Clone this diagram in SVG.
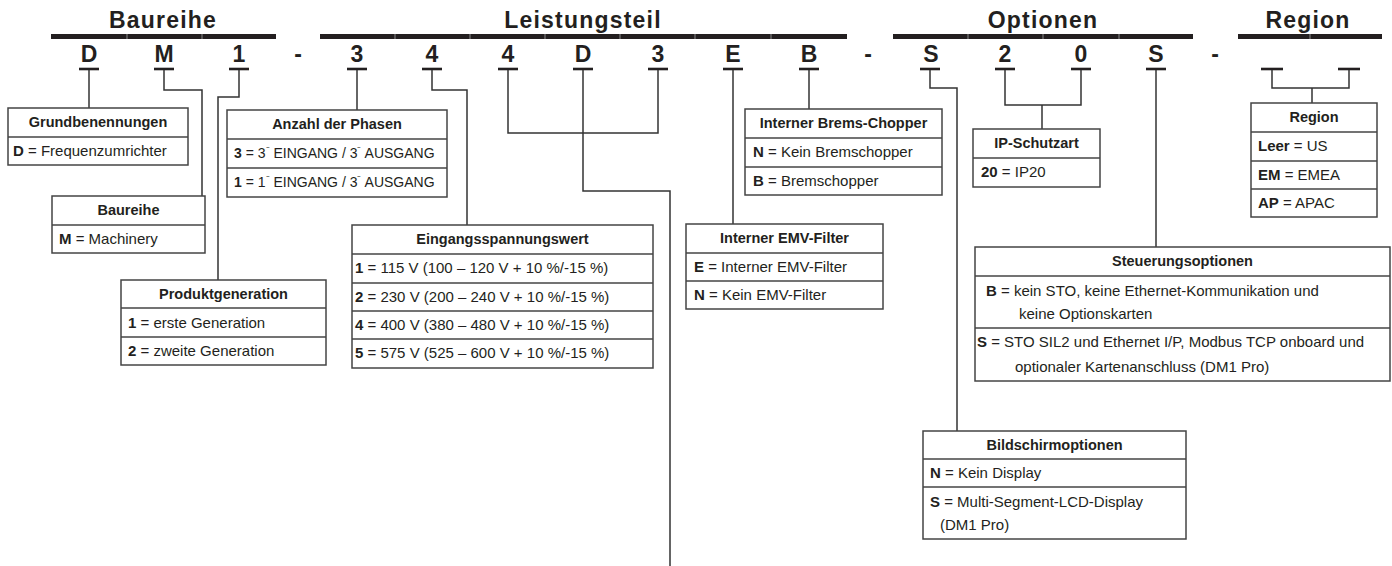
<svg xmlns="http://www.w3.org/2000/svg" width="1392" height="566" viewBox="0 0 1392 566">
<style>
text{font-family:"Liberation Sans",Arial,sans-serif;fill:#231f20}
.hd{font-size:23px;font-weight:bold;text-anchor:middle;letter-spacing:1.2px}
.lt{font-size:23px;font-weight:bold;text-anchor:middle}
.bar{fill:#231f20}
.sep{stroke:#8a8a8a;stroke-width:1}
.ul{stroke:#231f20;stroke-width:2.6}
.cn{fill:none;stroke:#333;stroke-width:1.5}
.box{fill:#fff;stroke:#444;stroke-width:1.5}
.dv{stroke:#444;stroke-width:1.5}
.tt{font-size:14.5px;font-weight:bold;text-anchor:middle}
.it{font-size:15px}
.it14{font-size:14px}
.b{font-weight:bold}
.sup{font-size:11px}
</style>

<g id="headers">
<text class="hd" x="163" y="28">Baureihe</text>
<text class="hd" x="583" y="28">Leistungsteil</text>
<text class="hd" x="1043" y="28">Optionen</text>
<text class="hd" x="1308" y="28">Region</text>
<rect class="bar" x="51" y="34" width="225" height="5"/>
<rect class="bar" x="320" y="34" width="527" height="5"/>
<rect class="bar" x="893" y="34" width="300" height="5"/>
<rect class="bar" x="1238" y="34" width="144" height="5"/>
<line class="sep" x1="127" y1="34" x2="127" y2="39"/>
<line class="sep" x1="202" y1="34" x2="202" y2="39"/>
<line class="sep" x1="395" y1="34" x2="395" y2="39"/>
<line class="sep" x1="470" y1="34" x2="470" y2="39"/>
<line class="sep" x1="545" y1="34" x2="545" y2="39"/>
<line class="sep" x1="620" y1="34" x2="620" y2="39"/>
<line class="sep" x1="695" y1="34" x2="695" y2="39"/>
<line class="sep" x1="771" y1="34" x2="771" y2="39"/>
<line class="sep" x1="968" y1="34" x2="968" y2="39"/>
<line class="sep" x1="1043" y1="34" x2="1043" y2="39"/>
<line class="sep" x1="1119" y1="34" x2="1119" y2="39"/>
<line class="sep" x1="1310" y1="34" x2="1310" y2="39"/>
</g>

<g id="code">
<text class="lt" x="89" y="62">D</text>
<text class="lt" x="164" y="62">M</text>
<text class="lt" x="239" y="62">1</text>
<text class="lt" x="298" y="62">-</text>
<text class="lt" x="357" y="62">3</text>
<text class="lt" x="432" y="62">4</text>
<text class="lt" x="508" y="62">4</text>
<text class="lt" x="583" y="62">D</text>
<text class="lt" x="658" y="62">3</text>
<text class="lt" x="733" y="62">E</text>
<text class="lt" x="809" y="62">B</text>
<text class="lt" x="868" y="62">-</text>
<text class="lt" x="931" y="62">S</text>
<text class="lt" x="1005" y="62">2</text>
<text class="lt" x="1081" y="62">0</text>
<text class="lt" x="1156" y="62">S</text>
<text class="lt" x="1215" y="62">-</text>
<line class="ul" x1="79" y1="69" x2="99" y2="69"/>
<line class="ul" x1="154" y1="69" x2="174" y2="69"/>
<line class="ul" x1="229" y1="69" x2="249" y2="69"/>
<line class="ul" x1="347" y1="69" x2="367" y2="69"/>
<line class="ul" x1="422" y1="69" x2="442" y2="69"/>
<line class="ul" x1="498" y1="69" x2="518" y2="69"/>
<line class="ul" x1="573" y1="69" x2="593" y2="69"/>
<line class="ul" x1="648" y1="69" x2="668" y2="69"/>
<line class="ul" x1="723" y1="69" x2="743" y2="69"/>
<line class="ul" x1="799" y1="69" x2="819" y2="69"/>
<line class="ul" x1="920" y1="69" x2="940" y2="69"/>
<line class="ul" x1="995" y1="69" x2="1015" y2="69"/>
<line class="ul" x1="1071" y1="69" x2="1091" y2="69"/>
<line class="ul" x1="1146" y1="69" x2="1166" y2="69"/>
<line class="ul" x1="1261" y1="69" x2="1283" y2="69"/>
<line class="ul" x1="1338" y1="69" x2="1360" y2="69"/>
</g>

<g id="connectors">
<path class="cn" d="M89 70 V108"/>
<path class="cn" d="M164 70 V90 H202 V196"/>
<path class="cn" d="M239 70 V97 H218 V280"/>
<path class="cn" d="M357 70 V110"/>
<path class="cn" d="M432 70 V90 H467 V225"/>
<path class="cn" d="M508 70 V133 H658 V70"/>
<path class="cn" d="M583 70 V191 H670 V566"/>
<path class="cn" d="M733 70 V224"/>
<path class="cn" d="M809 70 V109"/>
<path class="cn" d="M930 70 V88 H957 V431"/>
<path class="cn" d="M1005 70 V105 H1081 V70"/>
<path class="cn" d="M1042 105 V129"/>
<path class="cn" d="M1156 70 V247"/>
<path class="cn" d="M1272 70 V88 H1349 V70"/>
<path class="cn" d="M1312 88 V103"/>
</g>

<g id="grundbenennungen">
<rect class="box" x="8" y="108" width="180" height="57"/>
<line class="dv" x1="8" y1="137" x2="188" y2="137"/>
<text class="tt" x="98" y="127">Grundbenennungen</text>
<text class="it" x="13" y="156"><tspan class="b">D</tspan> = Frequenzumrichter</text>
</g>

<g id="baureihe">
<rect class="box" x="52" y="196" width="153" height="57"/>
<line class="dv" x1="52" y1="225" x2="205" y2="225"/>
<text class="tt" x="128.5" y="215">Baureihe</text>
<text class="it" x="59" y="244"><tspan class="b">M</tspan> = Machinery</text>
</g>

<g id="produktgeneration">
<rect class="box" x="121" y="280" width="205" height="85"/>
<line class="dv" x1="121" y1="308" x2="326" y2="308"/>
<line class="dv" x1="121" y1="337" x2="326" y2="337"/>
<text class="tt" x="223.5" y="299">Produktgeneration</text>
<text class="it" x="128" y="328"><tspan class="b">1</tspan> = erste Generation</text>
<text class="it" x="128" y="356"><tspan class="b">2</tspan> = zweite Generation</text>
</g>

<g id="phasen">
<rect class="box" x="227" y="110" width="220" height="87"/>
<line class="dv" x1="227" y1="139" x2="447" y2="139"/>
<line class="dv" x1="227" y1="168" x2="447" y2="168"/>
<text class="tt" x="337" y="129">Anzahl der Phasen</text>
<text class="it14" x="234" y="158"><tspan class="b">3</tspan> = 3<tspan class="sup" dy="-4">⁻</tspan><tspan dy="4"> EINGANG / 3</tspan><tspan class="sup" dy="-4">⁻</tspan><tspan dy="4"> AUSGANG</tspan></text>
<text class="it14" x="234" y="187"><tspan class="b">1</tspan> = 1<tspan class="sup" dy="-4">⁻</tspan><tspan dy="4"> EINGANG / 3</tspan><tspan class="sup" dy="-4">⁻</tspan><tspan dy="4"> AUSGANG</tspan></text>
</g>

<g id="eingangsspannung">
<rect class="box" x="352" y="225" width="301" height="143"/>
<line class="dv" x1="352" y1="254" x2="653" y2="254"/>
<line class="dv" x1="352" y1="283" x2="653" y2="283"/>
<line class="dv" x1="352" y1="311" x2="653" y2="311"/>
<line class="dv" x1="352" y1="339" x2="653" y2="339"/>
<text class="tt" x="502.5" y="244">Eingangsspannungswert</text>
<text class="it" x="355" y="273"><tspan class="b">1</tspan> = 115 V (100 – 120 V + 10 %/-15 %)</text>
<text class="it" x="355" y="302"><tspan class="b">2</tspan> = 230 V (200 – 240 V + 10 %/-15 %)</text>
<text class="it" x="355" y="330"><tspan class="b">4</tspan> = 400 V (380 – 480 V + 10 %/-15 %)</text>
<text class="it" x="355" y="358"><tspan class="b">5</tspan> = 575 V (525 – 600 V + 10 %/-15 %)</text>
</g>

<g id="emv">
<rect class="box" x="686" y="224" width="197" height="85"/>
<line class="dv" x1="686" y1="253" x2="883" y2="253"/>
<line class="dv" x1="686" y1="281" x2="883" y2="281"/>
<text class="tt" x="784.5" y="243">Interner EMV-Filter</text>
<text class="it" x="694" y="272"><tspan class="b">E</tspan> = Interner EMV-Filter</text>
<text class="it" x="694" y="300"><tspan class="b">N</tspan> = Kein EMV-Filter</text>
</g>

<g id="bremschopper">
<rect class="box" x="745" y="109" width="197" height="86"/>
<line class="dv" x1="745" y1="138" x2="942" y2="138"/>
<line class="dv" x1="745" y1="167" x2="942" y2="167"/>
<text class="tt" x="843.5" y="128">Interner Brems-Chopper</text>
<text class="it" x="753" y="157"><tspan class="b">N</tspan> = Kein Bremschopper</text>
<text class="it" x="753" y="186"><tspan class="b">B</tspan> = Bremschopper</text>
</g>

<g id="ipschutzart">
<rect class="box" x="973" y="129" width="127" height="58"/>
<line class="dv" x1="973" y1="158" x2="1100" y2="158"/>
<text class="tt" x="1036.5" y="148">IP-Schutzart</text>
<text class="it" x="981" y="177"><tspan class="b">20</tspan> = IP20</text>
</g>

<g id="steuerungsoptionen">
<rect class="box" x="975" y="247" width="415" height="134"/>
<line class="dv" x1="975" y1="276" x2="1390" y2="276"/>
<line class="dv" x1="975" y1="328" x2="1390" y2="328"/>
<text class="tt" x="1182.5" y="266">Steuerungsoptionen</text>
<text class="it" x="986" y="296"><tspan class="b">B</tspan> = kein STO, keine Ethernet-Kommunikation und</text>
<text class="it" x="1019" y="319">keine Optionskarten</text>
<text class="it" x="977" y="347"><tspan class="b">S</tspan> = STO SIL2 und Ethernet I/P, Modbus TCP onboard und</text>
<text class="it" x="1015" y="372">optionaler Kartenanschluss (DM1 Pro)</text>
</g>

<g id="bildschirmoptionen">
<rect class="box" x="923" y="431" width="263" height="108"/>
<line class="dv" x1="923" y1="459" x2="1186" y2="459"/>
<line class="dv" x1="923" y1="487" x2="1186" y2="487"/>
<text class="tt" x="1054.5" y="450">Bildschirmoptionen</text>
<text class="it" x="930" y="478"><tspan class="b">N</tspan> = Kein Display</text>
<text class="it" x="930" y="507"><tspan class="b">S</tspan> = Multi-Segment-LCD-Display</text>
<text class="it" x="940" y="530">(DM1 Pro)</text>
</g>

<g id="region">
<rect class="box" x="1251" y="103" width="126" height="114"/>
<line class="dv" x1="1251" y1="132" x2="1377" y2="132"/>
<line class="dv" x1="1251" y1="161" x2="1377" y2="161"/>
<line class="dv" x1="1251" y1="189" x2="1377" y2="189"/>
<text class="tt" x="1314" y="122">Region</text>
<text class="it" x="1258" y="151"><tspan class="b">Leer</tspan> = US</text>
<text class="it" x="1258" y="180"><tspan class="b">EM</tspan> = EMEA</text>
<text class="it" x="1258" y="208"><tspan class="b">AP</tspan> = APAC</text>
</g>
</svg>
